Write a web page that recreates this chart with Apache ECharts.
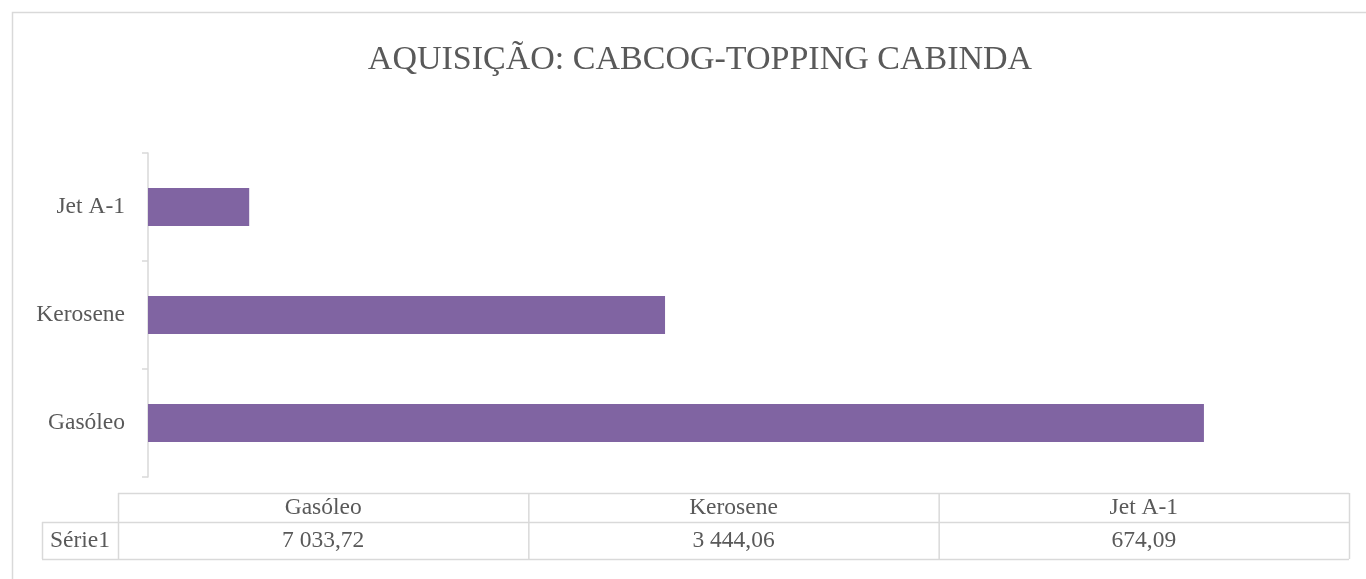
<!DOCTYPE html>
<html>
<head>
<meta charset="utf-8">
<script src="https://cdn.jsdelivr.net/npm/echarts@6/dist/echarts.min.js"></script>
<style>
  html, body { margin: 0; padding: 0; background: #ffffff; }
  #chart { width: 1366px; height: 579px; }
</style>
</head>
<body>
<div id="chart"></div>
<script>
// ---- data ----
const titleText = "AQUISIÇÃO: CABCOG-TOPPING CABINDA";
const categories = ["Gasóleo", "Kerosene", "Jet A-1"];
const seriesName = "Série1";
const values = [7033.72, 3444.06, 674.09];

// ---- style / layout ----
const FONT = "'Liberation Serif', 'DejaVu Serif', serif";
const TEXT_COLOR = "#595959";
const LINE_COLOR = "#d9d9d9";
const BAR_COLOR = "#8064a2";
const LABEL_SIZE = 23.5;

function fmtPt(v) {
  const parts = v.toFixed(2).split(".");
  const intPart = parts[0].replace(/\B(?=(\d{3})+(?!\d))/g, " ");
  return intPart + "," + parts[1];
}

const chart = echarts.init(document.getElementById("chart"));

// data table layout
const tblLeft = 118, tblRight = 1349, labelLeft = 42;
const yTop = 493, yMid = 522, yBot = 559;
const colW = (tblRight - tblLeft) / categories.length;

const graphics = [];
// outer chart frame (extends past the right/bottom edges of the view)
graphics.push({ type: "rect", silent: true,
  shape: { x: 12.5, y: 12.5, width: 1400, height: 700 },
  style: { fill: null, stroke: LINE_COLOR, lineWidth: 1.5 } });

function hline(x1, x2, y) {
  graphics.push({ type: "line", silent: true,
    shape: { x1: x1, y1: y + 0.5, x2: x2, y2: y + 0.5 },
    style: { stroke: LINE_COLOR, lineWidth: 1.5 } });
}
function vline(x, y1, y2) {
  graphics.push({ type: "line", silent: true,
    shape: { x1: x + 0.5, y1: y1, x2: x + 0.5, y2: y2 },
    style: { stroke: LINE_COLOR, lineWidth: 1.5 } });
}
hline(tblLeft, tblRight, yTop);
hline(labelLeft, tblRight, yMid);
hline(labelLeft, tblRight, yBot);
vline(labelLeft, yMid, yBot);
for (let i = 0; i <= categories.length; i++) {
  vline(tblLeft + i * colW, yTop, yBot);
}
function txt(s, x, y) {
  graphics.push({ type: "text", silent: true, x: x, y: y,
    style: { text: s, fontFamily: FONT, fontSize: LABEL_SIZE, fill: TEXT_COLOR,
      align: "center", verticalAlign: "middle",
      textAlign: "center", textVerticalAlign: "middle" } });
}
categories.forEach(function (c, i) {
  const cx = tblLeft + (i + 0.5) * colW;
  txt(c, cx, (yTop + yMid) / 2);
  txt(fmtPt(values[i]), cx, (yMid + yBot) / 2);
});
txt(seriesName, (labelLeft + tblLeft) / 2, (yMid + yBot) / 2);

chart.setOption({
  backgroundColor: "#ffffff",
  animation: false,
  title: {
    text: titleText,
    left: 695,
    textAlign: "center",
    top: 38,
    textStyle: { fontFamily: FONT, fontSize: 34, fontWeight: "normal",
      color: TEXT_COLOR, lineHeight: 34 }
  },
  grid: { left: 148, right: 17, top: 153, height: 324, containLabel: false },
  xAxis: { type: "value", min: 0, max: 8000, show: false },
  yAxis: {
    type: "category",
    data: categories,
    axisLine: { show: true, lineStyle: { color: LINE_COLOR, width: 1.5 } },
    axisTick: { show: true, length: 6, lineStyle: { color: LINE_COLOR, width: 1.5 } },
    axisLabel: { fontFamily: FONT, fontSize: LABEL_SIZE, color: TEXT_COLOR, margin: 23 },
    splitLine: { show: false }
  },
  series: [{
    name: seriesName,
    type: "bar",
    data: values,
    barCategoryGap: "65%",
    itemStyle: { color: BAR_COLOR }
  }],
  graphic: graphics
});
</script>
</body>
</html>
